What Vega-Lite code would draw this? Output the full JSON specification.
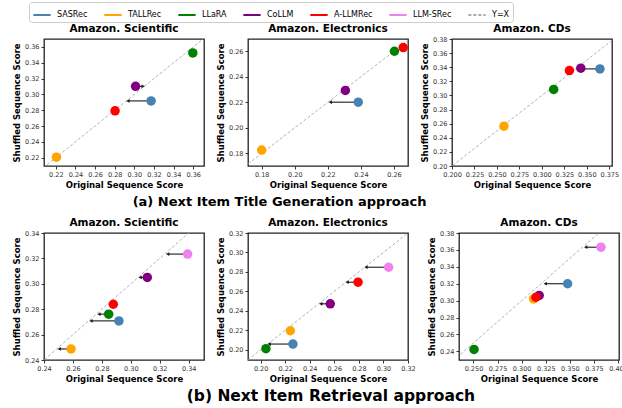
{
"$schema": "https://vega.github.io/schema/vega-lite/v6.json",
"padding": {"left": 11, "top": 1, "right": 0, "bottom": 0},
"config": {
 "font": "DejaVu Sans",
 "view": {"stroke": "#222222", "strokeWidth": 1.3},
 "axis": {"grid": false, "domain": false, "tickColor": "#222222", "tickSize": 3, "tickWidth": 0.9, "labelFontSize": 6.5, "labelColor": "#333333", "labelOverlap": false, "labelFlush": false, "tickCount": 30, "titleFontSize": 8.5, "titleFontWeight": "bold", "titleColor": "#000000", "labelPadding": 2, "titlePadding": 3},
 "title": {"fontSize": 10.5, "fontWeight": "bold", "color": "#000000", "offset": 3},
 "legend": {"orient": "none", "legendX": -15, "legendY": -37, "direction": "horizontal", "columns": 7, "symbolType": "stroke", "symbolStrokeWidth": 2, "symbolSize": 300, "labelFontSize": 8, "labelOffset": 5, "columnPadding": 12, "strokeColor": "#cccccc", "padding": 3, "cornerRadius": 3, "fillColor": "white"},
 "concat": {"spacing": 10}
},
"datasets": {
 "diag": [{"v": 0.1, "model": "Y=X"}, {"v": 0.5, "model": "Y=X"}],
 "points": [
  {"panel": "aSci", "model": "SASRec", "orig": 0.3171, "shuf": 0.2918},
  {"panel": "aSci", "model": "TALLRec", "orig": 0.2207, "shuf": 0.2208},
  {"panel": "aSci", "model": "LLaRA", "orig": 0.3596, "shuf": 0.3524},
  {"panel": "aSci", "model": "CoLLM", "orig": 0.3013, "shuf": 0.3102},
  {"panel": "aSci", "model": "A-LLMRec", "orig": 0.2804, "shuf": 0.2793},
  {"panel": "aElec", "model": "SASRec", "orig": 0.2384, "shuf": 0.2201},
  {"panel": "aElec", "model": "TALLRec", "orig": 0.18, "shuf": 0.1826},
  {"panel": "aElec", "model": "LLaRA", "orig": 0.2603, "shuf": 0.26},
  {"panel": "aElec", "model": "CoLLM", "orig": 0.2306, "shuf": 0.2293},
  {"panel": "aElec", "model": "A-LLMRec", "orig": 0.2656, "shuf": 0.2629},
  {"panel": "aCDs", "model": "SASRec", "orig": 0.3646, "shuf": 0.3376},
  {"panel": "aCDs", "model": "TALLRec", "orig": 0.2578, "shuf": 0.2564},
  {"panel": "aCDs", "model": "LLaRA", "orig": 0.3131, "shuf": 0.3085},
  {"panel": "aCDs", "model": "CoLLM", "orig": 0.3433, "shuf": 0.3386},
  {"panel": "aCDs", "model": "A-LLMRec", "orig": 0.3306, "shuf": 0.3353},
  {"panel": "bSci", "model": "SASRec", "orig": 0.2918, "shuf": 0.2708},
  {"panel": "bSci", "model": "TALLRec", "orig": 0.2587, "shuf": 0.2487},
  {"panel": "bSci", "model": "LLaRA", "orig": 0.2847, "shuf": 0.2761},
  {"panel": "bSci", "model": "CoLLM", "orig": 0.3114, "shuf": 0.305},
  {"panel": "bSci", "model": "A-LLMRec", "orig": 0.2879, "shuf": 0.2839},
  {"panel": "bSci", "model": "LLM-SRec", "orig": 0.3393, "shuf": 0.3234},
  {"panel": "bElec", "model": "SASRec", "orig": 0.2263, "shuf": 0.2058},
  {"panel": "bElec", "model": "TALLRec", "orig": 0.2242, "shuf": 0.2195},
  {"panel": "bElec", "model": "LLaRA", "orig": 0.2043, "shuf": 0.201},
  {"panel": "bElec", "model": "CoLLM", "orig": 0.2567, "shuf": 0.2472},
  {"panel": "bElec", "model": "A-LLMRec", "orig": 0.2793, "shuf": 0.2694},
  {"panel": "bElec", "model": "LLM-SRec", "orig": 0.3042, "shuf": 0.2848},
  {"panel": "bCDs", "model": "SASRec", "orig": 0.3477, "shuf": 0.32},
  {"panel": "bCDs", "model": "TALLRec", "orig": 0.3124, "shuf": 0.302},
  {"panel": "bCDs", "model": "LLaRA", "orig": 0.2506, "shuf": 0.2423},
  {"panel": "bCDs", "model": "CoLLM", "orig": 0.3182, "shuf": 0.3062},
  {"panel": "bCDs", "model": "A-LLMRec", "orig": 0.3148, "shuf": 0.304},
  {"panel": "bCDs", "model": "LLM-SRec", "orig": 0.3823, "shuf": 0.3632}
 ],
 "arrows": [
  {"panel": "aSci", "model": "SASRec", "orig": 0.3171, "tip": 0.2935, "shuf": 0.2918},
  {"panel": "aSci", "model": "CoLLM", "orig": 0.3013, "tip": 0.309, "shuf": 0.3102},
  {"panel": "aElec", "model": "SASRec", "orig": 0.2384, "tip": 0.2215, "shuf": 0.2201},
  {"panel": "aCDs", "model": "SASRec", "orig": 0.3646, "tip": 0.3395, "shuf": 0.3376},
  {"panel": "bSci", "model": "LLM-SRec", "orig": 0.3393, "tip": 0.3255, "shuf": 0.3234},
  {"panel": "bSci", "model": "CoLLM", "orig": 0.3114, "tip": 0.3065, "shuf": 0.305},
  {"panel": "bSci", "model": "LLaRA", "orig": 0.2847, "tip": 0.278, "shuf": 0.2761},
  {"panel": "bSci", "model": "SASRec", "orig": 0.2918, "tip": 0.2725, "shuf": 0.2708},
  {"panel": "bSci", "model": "TALLRec", "orig": 0.2587, "tip": 0.2505, "shuf": 0.2487},
  {"panel": "bElec", "model": "LLM-SRec", "orig": 0.3042, "tip": 0.2858, "shuf": 0.2848},
  {"panel": "bElec", "model": "A-LLMRec", "orig": 0.2793, "tip": 0.2705, "shuf": 0.2694},
  {"panel": "bElec", "model": "CoLLM", "orig": 0.2567, "tip": 0.249, "shuf": 0.2472},
  {"panel": "bElec", "model": "SASRec", "orig": 0.2263, "tip": 0.207, "shuf": 0.2058},
  {"panel": "bCDs", "model": "LLM-SRec", "orig": 0.3823, "tip": 0.3665, "shuf": 0.3632},
  {"panel": "bCDs", "model": "SASRec", "orig": 0.3477, "tip": 0.3245, "shuf": 0.32}
 ]
},
"spacing": 8,
"vconcat": [
 {
  "title": {"text": "(a) Next Item Title Generation approach", "orient": "bottom", "anchor": "middle", "fontSize": 13, "fontWeight": "bold", "dx": -36, "offset": 6},
  "hconcat": [
   {"title": {"text": "Amazon. Scientific", "frame": "group", "offset": 4.5}, "width": 160, "height": 127,
    "layer": [
     {"data": {"name": "diag"}, "mark": {"type": "line", "clip": true, "strokeWidth": 0.9},
      "encoding": {
       "x": {"field": "v", "type": "quantitative", "title": "Original Sequence Score", "scale": {"domain": [0.208, 0.371], "nice": false, "zero": false}, "axis": {"values": [0.22, 0.24, 0.26, 0.28, 0.30, 0.32, 0.34, 0.36], "format": ".2f", "labelOverlap": false, "tickCount": 30}},
       "y": {"field": "v", "type": "quantitative", "title": "Shuffled Sequence Score", "scale": {"domain": [0.2096, 0.370], "nice": false, "zero": false}, "axis": {"values": [0.22, 0.24, 0.26, 0.28, 0.30, 0.32, 0.34, 0.36], "format": ".2f", "labelOverlap": false, "tickCount": 30}},
       "color": {"field": "model", "type": "nominal", "title": null, "scale": {"domain": ["SASRec", "TALLRec", "LLaRA", "CoLLM", "A-LLMRec", "LLM-SRec", "Y=X"], "range": ["#4682b4", "#ffa500", "#008000", "#800080", "#ff0000", "#ee82ee", "#aaaaaa"]}},
       "strokeDash": {"field": "model", "type": "nominal", "title": null, "scale": {"domain": ["SASRec", "TALLRec", "LLaRA", "CoLLM", "A-LLMRec", "LLM-SRec", "Y=X"], "range": [[1, 0], [1, 0], [1, 0], [1, 0], [1, 0], [1, 0], [3, 2]]}}
      }},
     {"data": {"name": "arrows"}, "transform": [{"filter": "datum.panel == 'aSci'"}], "mark": {"type": "rule", "color": "#1a1a1a", "strokeWidth": 1.1},
      "encoding": {"x": {"field": "orig", "type": "quantitative", "title": "Original Sequence Score"}, "x2": {"field": "tip"}, "y": {"field": "shuf", "type": "quantitative", "title": "Shuffled Sequence Score"}}},
     {"data": {"name": "arrows"}, "transform": [{"filter": "datum.panel == 'aSci' && datum.tip < datum.orig"}], "mark": {"type": "point", "shape": "triangle-left", "filled": true, "color": "#1a1a1a", "size": 14, "opacity": 1},
      "encoding": {"x": {"field": "tip", "type": "quantitative", "title": "Original Sequence Score"}, "y": {"field": "shuf", "type": "quantitative", "title": "Shuffled Sequence Score"}}},
     {"data": {"name": "arrows"}, "transform": [{"filter": "datum.panel == 'aSci' && datum.tip > datum.orig"}], "mark": {"type": "point", "shape": "triangle-right", "filled": true, "color": "#1a1a1a", "size": 14, "opacity": 1},
      "encoding": {"x": {"field": "tip", "type": "quantitative", "title": "Original Sequence Score"}, "y": {"field": "shuf", "type": "quantitative", "title": "Shuffled Sequence Score"}}},
     {"data": {"name": "points"}, "transform": [{"filter": "datum.panel == 'aSci'"}], "mark": {"type": "circle", "size": 90, "opacity": 1},
      "encoding": {"x": {"field": "orig", "type": "quantitative", "title": "Original Sequence Score"}, "y": {"field": "shuf", "type": "quantitative", "title": "Shuffled Sequence Score"}, "color": {"field": "model", "type": "nominal", "title": null}}}
    ]},
   {"title": {"text": "Amazon. Electronics", "frame": "group", "offset": 4.5}, "width": 160, "height": 127,
    "layer": [
     {"data": {"name": "diag"}, "mark": {"type": "line", "clip": true, "strokeWidth": 0.9},
      "encoding": {
       "x": {"field": "v", "type": "quantitative", "title": "Original Sequence Score", "scale": {"domain": [0.1717, 0.2685], "nice": false, "zero": false}, "axis": {"values": [0.18, 0.20, 0.22, 0.24, 0.26], "format": ".2f", "labelOverlap": false, "tickCount": 30}},
       "y": {"field": "v", "type": "quantitative", "title": "Shuffled Sequence Score", "scale": {"domain": [0.1701, 0.2696], "nice": false, "zero": false}, "axis": {"values": [0.18, 0.20, 0.22, 0.24, 0.26], "format": ".2f", "labelOverlap": false, "tickCount": 30}},
       "color": {"field": "model", "type": "nominal", "title": null, "scale": {"domain": ["SASRec", "TALLRec", "LLaRA", "CoLLM", "A-LLMRec", "LLM-SRec", "Y=X"], "range": ["#4682b4", "#ffa500", "#008000", "#800080", "#ff0000", "#ee82ee", "#aaaaaa"]}},
       "strokeDash": {"field": "model", "type": "nominal", "title": null, "scale": {"domain": ["SASRec", "TALLRec", "LLaRA", "CoLLM", "A-LLMRec", "LLM-SRec", "Y=X"], "range": [[1, 0], [1, 0], [1, 0], [1, 0], [1, 0], [1, 0], [3, 2]]}}
      }},
     {"data": {"name": "arrows"}, "transform": [{"filter": "datum.panel == 'aElec'"}], "mark": {"type": "rule", "color": "#1a1a1a", "strokeWidth": 1.1},
      "encoding": {"x": {"field": "orig", "type": "quantitative", "title": "Original Sequence Score"}, "x2": {"field": "tip"}, "y": {"field": "shuf", "type": "quantitative", "title": "Shuffled Sequence Score"}}},
     {"data": {"name": "arrows"}, "transform": [{"filter": "datum.panel == 'aElec' && datum.tip < datum.orig"}], "mark": {"type": "point", "shape": "triangle-left", "filled": true, "color": "#1a1a1a", "size": 14, "opacity": 1},
      "encoding": {"x": {"field": "tip", "type": "quantitative", "title": "Original Sequence Score"}, "y": {"field": "shuf", "type": "quantitative", "title": "Shuffled Sequence Score"}}},
     {"data": {"name": "arrows"}, "transform": [{"filter": "datum.panel == 'aElec' && datum.tip > datum.orig"}], "mark": {"type": "point", "shape": "triangle-right", "filled": true, "color": "#1a1a1a", "size": 14, "opacity": 1},
      "encoding": {"x": {"field": "tip", "type": "quantitative", "title": "Original Sequence Score"}, "y": {"field": "shuf", "type": "quantitative", "title": "Shuffled Sequence Score"}}},
     {"data": {"name": "points"}, "transform": [{"filter": "datum.panel == 'aElec'"}], "mark": {"type": "circle", "size": 90, "opacity": 1},
      "encoding": {"x": {"field": "orig", "type": "quantitative", "title": "Original Sequence Score"}, "y": {"field": "shuf", "type": "quantitative", "title": "Shuffled Sequence Score"}, "color": {"field": "model", "type": "nominal", "title": null}}}
    ]},
   {"title": {"text": "Amazon. CDs", "frame": "group", "offset": 1.5}, "width": 160, "height": 127,
    "layer": [
     {"data": {"name": "diag"}, "mark": {"type": "line", "clip": true, "strokeWidth": 0.9},
      "encoding": {
       "x": {"field": "v", "type": "quantitative", "title": "Original Sequence Score", "scale": {"domain": [0.2, 0.378], "nice": false, "zero": false}, "axis": {"values": [0.2, 0.225, 0.25, 0.275, 0.3, 0.325, 0.35, 0.375], "format": ".3f", "labelOverlap": false, "tickCount": 30}},
       "y": {"field": "v", "type": "quantitative", "title": "Shuffled Sequence Score", "scale": {"domain": [0.2, 0.38], "nice": false, "zero": false}, "axis": {"values": [0.2, 0.22, 0.24, 0.26, 0.28, 0.3, 0.32, 0.34, 0.36, 0.38], "format": ".2f", "labelOverlap": false, "tickCount": 30}},
       "color": {"field": "model", "type": "nominal", "title": null, "scale": {"domain": ["SASRec", "TALLRec", "LLaRA", "CoLLM", "A-LLMRec", "LLM-SRec", "Y=X"], "range": ["#4682b4", "#ffa500", "#008000", "#800080", "#ff0000", "#ee82ee", "#aaaaaa"]}},
       "strokeDash": {"field": "model", "type": "nominal", "title": null, "scale": {"domain": ["SASRec", "TALLRec", "LLaRA", "CoLLM", "A-LLMRec", "LLM-SRec", "Y=X"], "range": [[1, 0], [1, 0], [1, 0], [1, 0], [1, 0], [1, 0], [3, 2]]}}
      }},
     {"data": {"name": "arrows"}, "transform": [{"filter": "datum.panel == 'aCDs'"}], "mark": {"type": "rule", "color": "#1a1a1a", "strokeWidth": 1.1},
      "encoding": {"x": {"field": "orig", "type": "quantitative", "title": "Original Sequence Score"}, "x2": {"field": "tip"}, "y": {"field": "shuf", "type": "quantitative", "title": "Shuffled Sequence Score"}}},
     {"data": {"name": "arrows"}, "transform": [{"filter": "datum.panel == 'aCDs' && datum.tip < datum.orig"}], "mark": {"type": "point", "shape": "triangle-left", "filled": true, "color": "#1a1a1a", "size": 14, "opacity": 1},
      "encoding": {"x": {"field": "tip", "type": "quantitative", "title": "Original Sequence Score"}, "y": {"field": "shuf", "type": "quantitative", "title": "Shuffled Sequence Score"}}},
     {"data": {"name": "arrows"}, "transform": [{"filter": "datum.panel == 'aCDs' && datum.tip > datum.orig"}], "mark": {"type": "point", "shape": "triangle-right", "filled": true, "color": "#1a1a1a", "size": 14, "opacity": 1},
      "encoding": {"x": {"field": "tip", "type": "quantitative", "title": "Original Sequence Score"}, "y": {"field": "shuf", "type": "quantitative", "title": "Shuffled Sequence Score"}}},
     {"data": {"name": "points"}, "transform": [{"filter": "datum.panel == 'aCDs'"}], "mark": {"type": "circle", "size": 90, "opacity": 1},
      "encoding": {"x": {"field": "orig", "type": "quantitative", "title": "Original Sequence Score"}, "y": {"field": "shuf", "type": "quantitative", "title": "Shuffled Sequence Score"}, "color": {"field": "model", "type": "nominal", "title": null}}}
    ]}
  ]
 },
 {
  "title": {"text": "(b) Next Item Retrieval approach", "orient": "bottom", "anchor": "middle", "fontSize": 15.5, "fontWeight": "bold", "dx": 11, "offset": 5},
  "hconcat": [
   {"title": {"text": "Amazon. Scientific", "frame": "group", "offset": 1.7}, "width": 160, "height": 127,
    "layer": [
     {"data": {"name": "diag"}, "mark": {"type": "line", "clip": true, "strokeWidth": 0.9},
      "encoding": {
       "x": {"field": "v", "type": "quantitative", "title": "Original Sequence Score", "scale": {"domain": [0.24, 0.3506], "nice": false, "zero": false}, "axis": {"values": [0.24, 0.26, 0.28, 0.30, 0.32, 0.34], "format": ".2f", "labelOverlap": false, "tickCount": 30}},
       "y": {"field": "v", "type": "quantitative", "title": "Shuffled Sequence Score", "scale": {"domain": [0.24, 0.34], "nice": false, "zero": false}, "axis": {"values": [0.24, 0.26, 0.28, 0.30, 0.32, 0.34], "format": ".2f", "labelOverlap": false, "tickCount": 30}},
       "color": {"field": "model", "type": "nominal", "title": null, "scale": {"domain": ["SASRec", "TALLRec", "LLaRA", "CoLLM", "A-LLMRec", "LLM-SRec", "Y=X"], "range": ["#4682b4", "#ffa500", "#008000", "#800080", "#ff0000", "#ee82ee", "#aaaaaa"]}},
       "strokeDash": {"field": "model", "type": "nominal", "title": null, "scale": {"domain": ["SASRec", "TALLRec", "LLaRA", "CoLLM", "A-LLMRec", "LLM-SRec", "Y=X"], "range": [[1, 0], [1, 0], [1, 0], [1, 0], [1, 0], [1, 0], [3, 2]]}}
      }},
     {"data": {"name": "arrows"}, "transform": [{"filter": "datum.panel == 'bSci'"}], "mark": {"type": "rule", "color": "#1a1a1a", "strokeWidth": 1.1},
      "encoding": {"x": {"field": "orig", "type": "quantitative", "title": "Original Sequence Score"}, "x2": {"field": "tip"}, "y": {"field": "shuf", "type": "quantitative", "title": "Shuffled Sequence Score"}}},
     {"data": {"name": "arrows"}, "transform": [{"filter": "datum.panel == 'bSci' && datum.tip < datum.orig"}], "mark": {"type": "point", "shape": "triangle-left", "filled": true, "color": "#1a1a1a", "size": 14, "opacity": 1},
      "encoding": {"x": {"field": "tip", "type": "quantitative", "title": "Original Sequence Score"}, "y": {"field": "shuf", "type": "quantitative", "title": "Shuffled Sequence Score"}}},
     {"data": {"name": "arrows"}, "transform": [{"filter": "datum.panel == 'bSci' && datum.tip > datum.orig"}], "mark": {"type": "point", "shape": "triangle-right", "filled": true, "color": "#1a1a1a", "size": 14, "opacity": 1},
      "encoding": {"x": {"field": "tip", "type": "quantitative", "title": "Original Sequence Score"}, "y": {"field": "shuf", "type": "quantitative", "title": "Shuffled Sequence Score"}}},
     {"data": {"name": "points"}, "transform": [{"filter": "datum.panel == 'bSci'"}], "mark": {"type": "circle", "size": 90, "opacity": 1},
      "encoding": {"x": {"field": "orig", "type": "quantitative", "title": "Original Sequence Score"}, "y": {"field": "shuf", "type": "quantitative", "title": "Shuffled Sequence Score"}, "color": {"field": "model", "type": "nominal", "title": null}}}
    ]},
   {"title": {"text": "Amazon. Electronics", "frame": "group", "offset": 1.7}, "width": 160, "height": 127,
    "layer": [
     {"data": {"name": "diag"}, "mark": {"type": "line", "clip": true, "strokeWidth": 0.9},
      "encoding": {
       "x": {"field": "v", "type": "quantitative", "title": "Original Sequence Score", "scale": {"domain": [0.1897, 0.32], "nice": false, "zero": false}, "axis": {"values": [0.20, 0.22, 0.24, 0.26, 0.28, 0.30, 0.32], "format": ".2f", "labelOverlap": false, "tickCount": 30}},
       "y": {"field": "v", "type": "quantitative", "title": "Shuffled Sequence Score", "scale": {"domain": [0.1894, 0.32], "nice": false, "zero": false}, "axis": {"values": [0.20, 0.22, 0.24, 0.26, 0.28, 0.30, 0.32], "format": ".2f", "labelOverlap": false, "tickCount": 30}},
       "color": {"field": "model", "type": "nominal", "title": null, "scale": {"domain": ["SASRec", "TALLRec", "LLaRA", "CoLLM", "A-LLMRec", "LLM-SRec", "Y=X"], "range": ["#4682b4", "#ffa500", "#008000", "#800080", "#ff0000", "#ee82ee", "#aaaaaa"]}},
       "strokeDash": {"field": "model", "type": "nominal", "title": null, "scale": {"domain": ["SASRec", "TALLRec", "LLaRA", "CoLLM", "A-LLMRec", "LLM-SRec", "Y=X"], "range": [[1, 0], [1, 0], [1, 0], [1, 0], [1, 0], [1, 0], [3, 2]]}}
      }},
     {"data": {"name": "arrows"}, "transform": [{"filter": "datum.panel == 'bElec'"}], "mark": {"type": "rule", "color": "#1a1a1a", "strokeWidth": 1.1},
      "encoding": {"x": {"field": "orig", "type": "quantitative", "title": "Original Sequence Score"}, "x2": {"field": "tip"}, "y": {"field": "shuf", "type": "quantitative", "title": "Shuffled Sequence Score"}}},
     {"data": {"name": "arrows"}, "transform": [{"filter": "datum.panel == 'bElec' && datum.tip < datum.orig"}], "mark": {"type": "point", "shape": "triangle-left", "filled": true, "color": "#1a1a1a", "size": 14, "opacity": 1},
      "encoding": {"x": {"field": "tip", "type": "quantitative", "title": "Original Sequence Score"}, "y": {"field": "shuf", "type": "quantitative", "title": "Shuffled Sequence Score"}}},
     {"data": {"name": "arrows"}, "transform": [{"filter": "datum.panel == 'bElec' && datum.tip > datum.orig"}], "mark": {"type": "point", "shape": "triangle-right", "filled": true, "color": "#1a1a1a", "size": 14, "opacity": 1},
      "encoding": {"x": {"field": "tip", "type": "quantitative", "title": "Original Sequence Score"}, "y": {"field": "shuf", "type": "quantitative", "title": "Shuffled Sequence Score"}}},
     {"data": {"name": "points"}, "transform": [{"filter": "datum.panel == 'bElec'"}], "mark": {"type": "circle", "size": 90, "opacity": 1},
      "encoding": {"x": {"field": "orig", "type": "quantitative", "title": "Original Sequence Score"}, "y": {"field": "shuf", "type": "quantitative", "title": "Shuffled Sequence Score"}, "color": {"field": "model", "type": "nominal", "title": null}}}
    ]},
   {"title": {"text": "Amazon. CDs", "frame": "group", "offset": 1.7}, "width": 160, "height": 127,
    "layer": [
     {"data": {"name": "diag"}, "mark": {"type": "line", "clip": true, "strokeWidth": 0.9},
      "encoding": {
       "x": {"field": "v", "type": "quantitative", "title": "Original Sequence Score", "scale": {"domain": [0.235, 0.401], "nice": false, "zero": false}, "axis": {"values": [0.25, 0.275, 0.3, 0.325, 0.35, 0.375, 0.4], "format": ".3f", "labelOverlap": false, "tickCount": 30}},
       "y": {"field": "v", "type": "quantitative", "title": "Shuffled Sequence Score", "scale": {"domain": [0.2298, 0.38], "nice": false, "zero": false}, "axis": {"values": [0.24, 0.26, 0.28, 0.3, 0.32, 0.34, 0.36, 0.38], "format": ".2f", "labelOverlap": false, "tickCount": 30}},
       "color": {"field": "model", "type": "nominal", "title": null, "scale": {"domain": ["SASRec", "TALLRec", "LLaRA", "CoLLM", "A-LLMRec", "LLM-SRec", "Y=X"], "range": ["#4682b4", "#ffa500", "#008000", "#800080", "#ff0000", "#ee82ee", "#aaaaaa"]}},
       "strokeDash": {"field": "model", "type": "nominal", "title": null, "scale": {"domain": ["SASRec", "TALLRec", "LLaRA", "CoLLM", "A-LLMRec", "LLM-SRec", "Y=X"], "range": [[1, 0], [1, 0], [1, 0], [1, 0], [1, 0], [1, 0], [3, 2]]}}
      }},
     {"data": {"name": "arrows"}, "transform": [{"filter": "datum.panel == 'bCDs'"}], "mark": {"type": "rule", "color": "#1a1a1a", "strokeWidth": 1.1},
      "encoding": {"x": {"field": "orig", "type": "quantitative", "title": "Original Sequence Score"}, "x2": {"field": "tip"}, "y": {"field": "shuf", "type": "quantitative", "title": "Shuffled Sequence Score"}}},
     {"data": {"name": "arrows"}, "transform": [{"filter": "datum.panel == 'bCDs' && datum.tip < datum.orig"}], "mark": {"type": "point", "shape": "triangle-left", "filled": true, "color": "#1a1a1a", "size": 14, "opacity": 1},
      "encoding": {"x": {"field": "tip", "type": "quantitative", "title": "Original Sequence Score"}, "y": {"field": "shuf", "type": "quantitative", "title": "Shuffled Sequence Score"}}},
     {"data": {"name": "arrows"}, "transform": [{"filter": "datum.panel == 'bCDs' && datum.tip > datum.orig"}], "mark": {"type": "point", "shape": "triangle-right", "filled": true, "color": "#1a1a1a", "size": 14, "opacity": 1},
      "encoding": {"x": {"field": "tip", "type": "quantitative", "title": "Original Sequence Score"}, "y": {"field": "shuf", "type": "quantitative", "title": "Shuffled Sequence Score"}}},
     {"data": {"name": "points"}, "transform": [{"filter": "datum.panel == 'bCDs'"}], "mark": {"type": "circle", "size": 90, "opacity": 1},
      "encoding": {"x": {"field": "orig", "type": "quantitative", "title": "Original Sequence Score"}, "y": {"field": "shuf", "type": "quantitative", "title": "Shuffled Sequence Score"}, "color": {"field": "model", "type": "nominal", "title": null}}}
    ]}
  ]
 }
]
}
